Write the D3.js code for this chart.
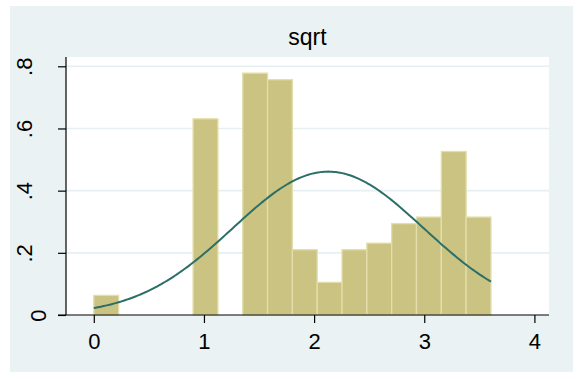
<!DOCTYPE html>
<html>
<head>
<meta charset="utf-8">
<script src="https://cdn.jsdelivr.net/npm/d3@7"></script>
<style>
  html, body { margin: 0; padding: 0; background: #ffffff; }
  svg { display: block; }
  text { font-family: "Liberation Sans", Arial, Helvetica, sans-serif; fill: #000; }
</style>
</head>
<body>
<svg id="chart" width="580" height="379"></svg>
<script>
// Histogram of sqrt: 16 equal-width bins from 0 to the maximum, density scale
const titleText = "sqrt";
const binMin = 0;
const binMax = 3.6056;
const binDensity = [0.063, 0, 0, 0, 0.631, 0, 0.778, 0.757, 0.210, 0.105, 0.210, 0.231, 0.294, 0.315, 0.526, 0.315];

// Fitted normal overlay
const normalMean = 2.128;
const normalSd = 0.865;

// Axis ticks
const xTicks = [0, 1, 2, 3, 4];
const yTicks = [0, 0.2, 0.4, 0.6, 0.8];

const svg = d3.select("#chart");

// Plot region geometry
const region = { left: 66, right: 549, top: 57, bottom: 315 };

const x = d3.scaleLinear().domain([0, 4]).range([93.8, 534.4]);
const y = d3.scaleLinear().domain([0, 0.8]).range([315, 66.3]);

// Graph background
svg.append("rect")
  .attr("x", 10).attr("y", 6)
  .attr("width", 563).attr("height", 366)
  .attr("fill", "#eaf2f3");

// Plot region
svg.append("rect")
  .attr("x", region.left).attr("y", region.top)
  .attr("width", region.right - region.left)
  .attr("height", region.bottom - region.top)
  .attr("fill", "#ffffff");

// Horizontal grid lines
svg.append("g")
  .selectAll("line")
  .data(yTicks.filter(d => d > 0))
  .join("line")
  .attr("x1", region.left).attr("x2", region.right)
  .attr("y1", d => y(d)).attr("y2", d => y(d))
  .attr("stroke", "#e6eff1")
  .attr("stroke-width", 1.6);

// Bars
const binWidth = (binMax - binMin) / binDensity.length;
svg.append("g")
  .selectAll("rect")
  .data(binDensity.map((v, i) => ({ x0: binMin + i * binWidth, x1: binMin + (i + 1) * binWidth, v })).filter(d => d.v > 0))
  .join("rect")
  .attr("x", d => x(d.x0))
  .attr("width", d => x(d.x1) - x(d.x0))
  .attr("y", d => y(d.v))
  .attr("height", d => y(0) - y(d.v))
  .attr("fill", "#cac381")
  .attr("stroke", "#e3deaa")
  .attr("stroke-width", 1.3);

// Normal density curve over the data range
const curveSteps = 200;
const normalPts = d3.range(curveSteps + 1).map(i => {
  const xv = binMin + (binMax - binMin) * i / curveSteps;
  const z = (xv - normalMean) / normalSd;
  return [xv, Math.exp(-0.5 * z * z) / (normalSd * Math.sqrt(2 * Math.PI))];
});
svg.append("path")
  .datum(normalPts)
  .attr("fill", "none")
  .attr("stroke", "#2c6f68")
  .attr("stroke-width", 2)
  .attr("d", d3.line().x(d => x(d[0])).y(d => y(d[1])).curve(d3.curveLinear));

// X axis
const xAxis = svg.append("g")
  .attr("transform", `translate(0,${region.bottom})`)
  .call(d3.axisBottom(x).tickValues(xTicks).tickSize(8).tickPadding(10).tickFormat(d3.format("d")));
xAxis.select(".domain").remove();
xAxis.selectAll(".tick line").attr("stroke", "#000").attr("stroke-width", 1.2);
xAxis.selectAll(".tick text").attr("font-size", 22).style("font-family", "'Liberation Sans', Arial, sans-serif");
svg.append("line")
  .attr("x1", region.left - 8).attr("x2", region.right)
  .attr("y1", region.bottom).attr("y2", region.bottom)
  .attr("stroke", "#000").attr("stroke-width", 1.2);

// Y axis with vertical labels
const yFmt = d => d === 0 ? "0" : String(d).replace(/^0/, "");
const yAxis = svg.append("g")
  .attr("transform", `translate(${region.left},0)`)
  .call(d3.axisLeft(y).tickValues(yTicks).tickSize(8).tickFormat(yFmt));
yAxis.select(".domain").remove();
yAxis.selectAll(".tick line").attr("stroke", "#000").attr("stroke-width", 1.2);
yAxis.selectAll(".tick text")
  .attr("font-size", 22)
  .style("font-family", "'Liberation Sans', Arial, sans-serif")
  .attr("text-anchor", "middle")
  .attr("dy", null)
  .attr("x", 0)
  .attr("y", d => d === 0 ? -20 : -34)
  .attr("transform", "rotate(-90)");
svg.append("line")
  .attr("x1", region.left).attr("x2", region.left)
  .attr("y1", region.top).attr("y2", region.bottom)
  .attr("stroke", "#000").attr("stroke-width", 1.2);

// Title
svg.append("text")
  .attr("x", (region.left + region.right) / 2)
  .attr("y", 45)
  .attr("text-anchor", "middle")
  .attr("font-size", 23)
  .text(titleText);
</script>
</body>
</html>
